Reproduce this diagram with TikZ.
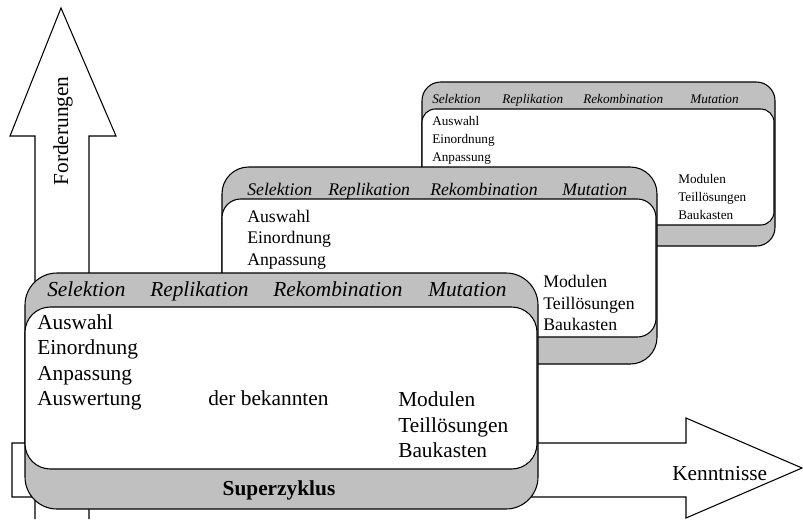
\documentclass[tikz,border=0pt]{standalone}
\usepackage{fontspec}
\setmainfont{Liberation Serif}
\definecolor{boxgray}{RGB}{192,192,192}
\newcommand\fsA{\fontsize{16}{19}\selectfont}
\newcommand\fsB{\fontsize{13.3}{16}\selectfont}
\newcommand\fsC{\fontsize{9.9}{12}\selectfont}
\tikzset{
  ln/.style={draw=black, line width=0.8pt},
  outerbox/.style={ln, fill=boxgray},
  innerbox/.style={ln, fill=white},
  txt/.style={inner sep=0pt, anchor=base west},
  tA/.style={txt, font=\fsA},
  tB/.style={txt, font=\fsB},
  tC/.style={txt, font=\fsC},
  hA/.style={txt, font=\fsA\itshape},
  hB/.style={txt, font=\fsB\itshape},
  hC/.style={txt, font=\fsC\itshape},
}
\begin{document}
\begin{tikzpicture}[x=0.75pt,y=-0.75pt]
\useasboundingbox (0,0) rectangle (803,519);
% up arrow (Forderungen)
\draw[ln, fill=white] (35,519) -- (35,136) -- (10,136) -- (61,8) -- (116,136) -- (89,136) -- (89,519);
\node[rotate=90, inner sep=0pt, font=\fsA] (ford) at (63,131) {Forderungen};
% right arrow (Kenntnisse)
\draw[ln, fill=white] (12,443) -- (686,443) -- (686,418) -- (802,468) -- (686,518) -- (686,497) -- (12,497) -- cycle;
\node[tA] (kennt) at (672,480) {Kenntnisse};
% back box
\draw[outerbox, rounded corners=14pt] (422,82) rectangle (775,246);
\draw[innerbox, rounded corners=10pt] (422,109) rectangle (774,225);
\node[hC] (c1) at (432,103) {Selektion};
\node[hC] (c2) at (502,103) {Replikation};
\node[hC] (c3) at (583,103) {Rekombination};
\node[hC] (c4) at (690,103) {Mutation};
\node[tC] (c5) at (432,125) {Auswahl};
\node[tC] (c6) at (432,143) {Einordnung};
\node[tC] (c7) at (432,161) {Anpassung};
\node[tC] (c8) at (678,183) {Modulen};
\node[tC] (c9) at (678,201) {Teillösungen};
\node[tC] (c10) at (678,219) {Baukasten};
% middle box
\draw[outerbox, rounded corners=20pt] (222,167) rectangle (657,364);
\draw[innerbox, rounded corners=14pt] (222,199) rectangle (656,337);
\node[hB] (b1) at (247,195) {Selektion};
\node[hB] (b2) at (328,195) {Replikation};
\node[hB] (b3) at (430,195) {Rekombination};
\node[hB] (b4) at (562,195) {Mutation};
\node[tB] (b5) at (247,222) {Auswahl};
\node[tB] (b6) at (247,243) {Einordnung};
\node[tB] (b7) at (247,265) {Anpassung};
\node[tB] (b8) at (543,287) {Modulen};
\node[tB] (b9) at (543,309) {Teillösungen};
\node[tB] (b10) at (543,330) {Baukasten};
% front box
\draw[outerbox, rounded corners=24pt] (25,273) rectangle (538,509);
\draw[innerbox, rounded corners=19pt] (25,307) rectangle (537,469);
\node[hA] (a1) at (47,296) {Selektion};
\node[hA] (a2) at (150,296) {Replikation};
\node[hA] (a3) at (273,296) {Rekombination};
\node[hA] (a4) at (428,296) {Mutation};
\node[tA] (a5) at (37,329) {Auswahl};
\node[tA] (a6) at (37,354) {Einordnung};
\node[tA] (a7) at (37,380) {Anpassung};
\node[tA] (a8) at (37,405) {Auswertung};
\node[tA] (a9) at (208,405) {der bekannten};
\node[tA] (a10) at (398,406) {Modulen};
\node[tA] (a11) at (398,432) {Teillösungen};
\node[tA] (a12) at (398,457) {Baukasten};
\node[inner sep=0pt, anchor=base, font=\fsA\bfseries] (super) at (279,495) {Superzyklus};
\end{tikzpicture}
\end{document}
